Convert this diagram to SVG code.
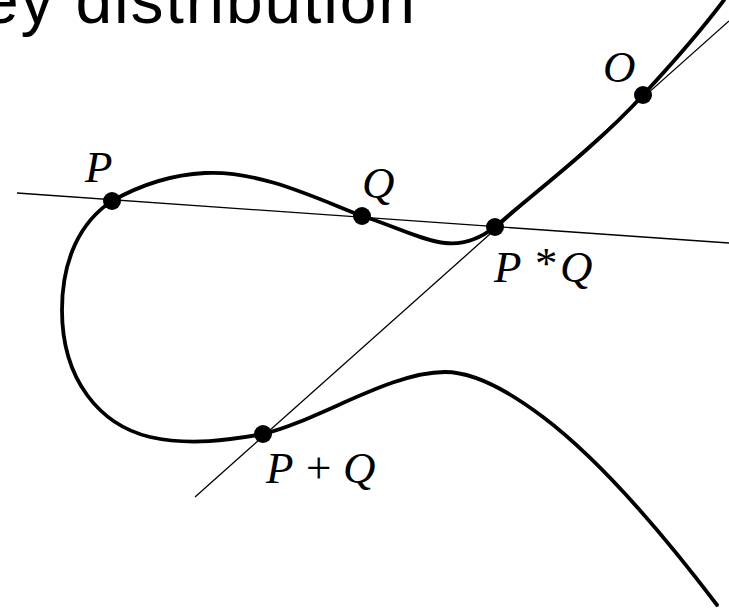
<svg xmlns="http://www.w3.org/2000/svg" width="729" height="610" viewBox="0 0 729 610">
<style>
.curve{fill:none;stroke:#000;stroke-width:3.8;stroke-linejoin:round;stroke-linecap:round}
.line{fill:none;stroke:#000;stroke-width:1.3}
.dot{fill:#000}
.lbl{font-family:"Liberation Serif","DejaVu Serif",serif;font-style:italic;font-size:45px;fill:#000}
.op{font-style:normal}
.title{font-family:"Liberation Sans","DejaVu Sans",sans-serif;font-size:66px;fill:#000}
</style>
<rect width="729" height="610" fill="#fff"/>
<text class="title" x="-18" y="23" textLength="433" lengthAdjust="spacing">ey distribution</text>
<g id="connectors">
<line class="line" x1="17" y1="193" x2="729" y2="243"/>
<line class="line" x1="195" y1="497" x2="729" y2="21"/>
</g>
<g id="curve">
<path class="curve" d="M 724,0 C 700,32 668,68 643,95 C 595,148 525,200 495,227 C 478,240 462,245 445,243 C 420,240 392,225 362,216 C 320,200 260,170 205,173 C 165,175 135,188 112,201 C 80,222 62,260 62,310 C 62,380 100,425 150,437 C 190,446 230,440 263,434 C 320,420 390,372 445,372 C 475,372 510,392 543,417 C 600,460 660,530 717,605"/>
</g>
<g id="P">
<circle class="dot" cx="112" cy="201" r="9"/>
<text class="lbl" x="85" y="182">P</text>
</g>
<g id="Q">
<circle class="dot" cx="362" cy="216" r="9"/>
<text class="lbl" x="362" y="198">Q</text>
</g>
<g id="PstarQ">
<circle class="dot" cx="495" cy="227" r="9"/>
<text class="lbl" x="494" y="282">P</text>
<text class="lbl op" x="535" y="278" font-size="34">*</text>
<text class="lbl" x="560" y="282">Q</text>
</g>
<g id="O">
<circle class="dot" cx="643" cy="95" r="9"/>
<text class="lbl" x="603" y="82">O</text>
</g>
<g id="PplusQ">
<circle class="dot" cx="263" cy="434" r="9"/>
<text class="lbl" x="266" y="483">P</text>
<text class="lbl op" x="306" y="483">+</text>
<text class="lbl" x="343" y="483">Q</text>
</g>
</svg>
